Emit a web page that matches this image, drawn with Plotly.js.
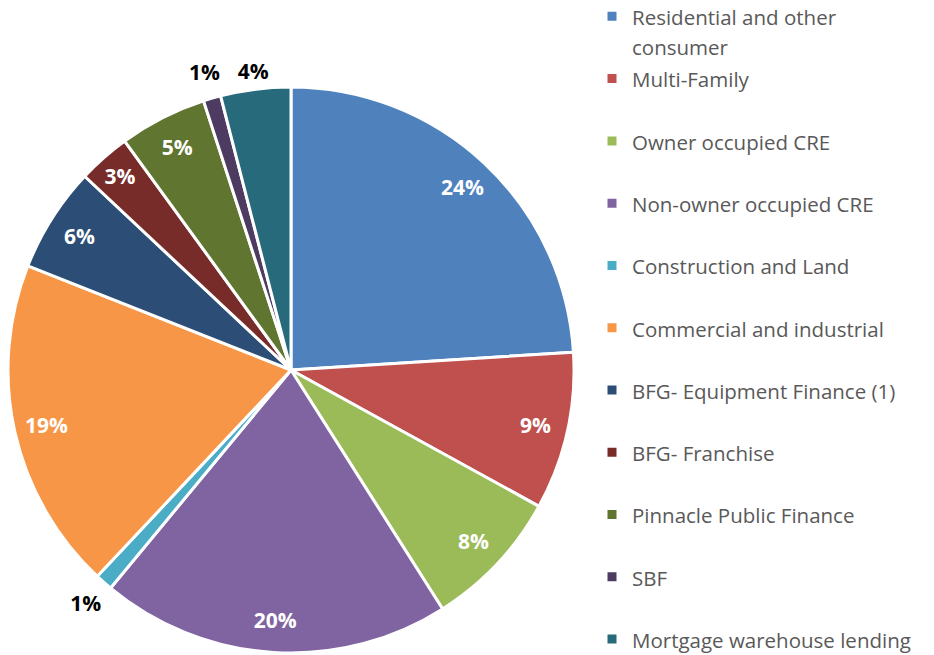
<!DOCTYPE html>
<html>
<head>
<meta charset="utf-8">
<script src="https://cdn.plot.ly/plotly-3.0.1.min.js"></script>
<style>
  html, body { margin: 0; padding: 0; background: #fff; overflow: hidden; }
  /* plot area is a bit larger than the window so the outer label ring and the legend fit */
  #chart { width: 964px; height: 700px; margin-top: -5px; margin-left: -30px; }
</style>
</head>
<body>
<div id="chart"></div>
<script>
// Loan portfolio mix (% of total)
const categories = [
    'Residential and other consumer',
    'Multi-Family',
    'Owner occupied CRE',
    'Non-owner occupied CRE',
    'Construction and Land',
    'Commercial and industrial',
    'BFG- Equipment Finance (1)',
    'BFG- Franchise',
    'Pinnacle Public Finance',
    'SBF',
    'Mortgage warehouse lending'
];
const shares = [24, 9, 8, 20, 1, 19, 6, 3, 5, 1, 4];

const sliceColors = [
    '#4F81BD', '#C0504D', '#9BBB59', '#8064A2', '#4BACC6', '#F79646',
    '#2C4D75', '#772C2A', '#5F7530', '#4D3B62', '#276A7C'
];

const W = 964, H = 700, OFFX = 30, OFFY = 5;
const FONT = '"Open Sans", Lato, sans-serif';

// pie centre / radius in window pixels -> plotly domain
const CX = 291, CY = 370, R = 283, R_LABEL = 320;
const domainFor = r => ({
    x: [(CX + OFFX - r) / W, (CX + OFFX + r) / W],
    y: [(H - (CY + OFFY + r)) / H, (H - (CY + OFFY - r)) / H]
});

// legend text: wrap the long first label, pad the rest to two lines
const legendLabel = (name, i) => {
    let txt = name;
    if (i === 0) txt = 'Residential and other<br>consumer';
    else if (i < categories.length - 1) txt = name + '<br> ';
    return '<span style="font-size:20.5px">' + txt + '</span>';
};

const clear = shares.map(() => 'rgba(0,0,0,0)');
const outsideLabel = shares.map((v, i) => v <= 1 || i === 10);

const base = {
    type: 'pie',
    values: shares,
    sort: false,
    direction: 'clockwise',
    rotation: 0
};

// the coloured pie itself, no labels
const pie = Object.assign({}, base, {
    labels: categories.map(legendLabel),
    marker: { colors: sliceColors, line: { color: '#ffffff', width: 3 } },
    textinfo: 'none',
    domain: domainFor(R)
});

// transparent ring on top: white labels near the rim
const innerRing = Object.assign({}, base, {
    labels: categories,
    hole: 0.77,
    showlegend: false,
    marker: { colors: clear, line: { width: 0 } },
    texttemplate: '<b>%{value}%</b>',
    textposition: outsideLabel.map(o => o ? 'none' : 'inside'),
    insidetextorientation: 'horizontal',
    insidetextfont: { family: FONT, size: 21, color: '#ffffff' },
    domain: domainFor(R)
});

// transparent ring just outside the pie: black labels of the small slices
const outerRing = Object.assign({}, base, {
    labels: categories,
    hole: R / R_LABEL,
    showlegend: false,
    marker: { colors: clear, line: { width: 0 } },
    texttemplate: '<b>%{value}%</b>',
    textposition: outsideLabel.map(o => o ? 'inside' : 'none'),
    insidetextorientation: 'horizontal',
    insidetextfont: { family: FONT, size: 21, color: '#000000' },
    domain: domainFor(R_LABEL)
});

const layout = {
    width: W,
    height: H,
    margin: { t: 0, r: 0, b: 0, l: 0 },
    paper_bgcolor: '#ffffff',
    showlegend: true,
    uniformtext: { mode: 'show', minsize: 21 },
    legend: {
        x: (592 + OFFX) / W,
        xanchor: 'left',
        y: 1,
        yanchor: 'top',
        valign: 'top',
        font: { family: FONT, size: 22.8, color: '#595959' },
        bgcolor: 'rgba(0,0,0,0)'
    }
};

Plotly.newPlot('chart', [pie, innerRing, outerRing], layout, { displayModeBar: false, staticPlot: true });
</script>
</body>
</html>
